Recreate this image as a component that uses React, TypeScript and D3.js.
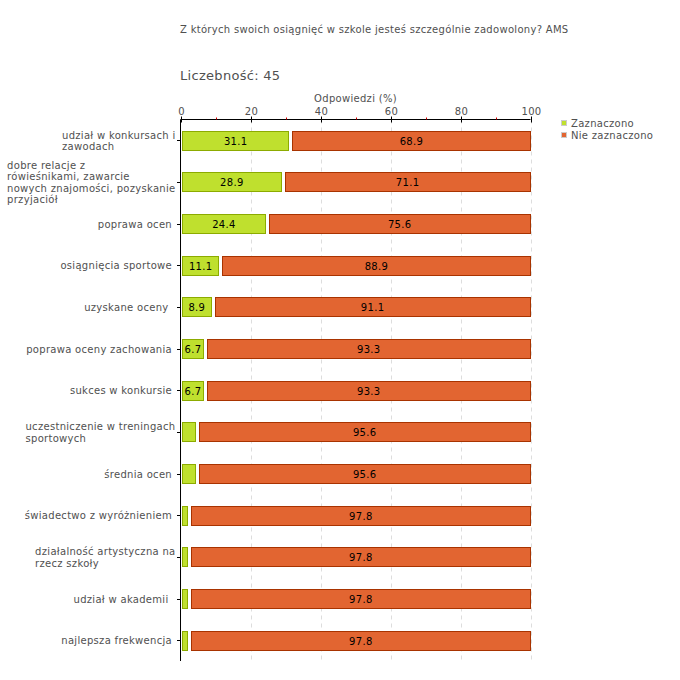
import React, { useEffect, useRef } from "react";
import * as d3 from "d3";

const title = "Z których swoich osiągnięć w szkole jesteś szczególnie zadowolony? AMS";
const countLabel = "Liczebność: 45";
const axisTitle = "Odpowiedzi (%)";
const categories = [
  "udział w konkursach i\nzawodach",
  "dobre relacje z\nrówieśnikami, zawarcie\nnowych znajomości, pozyskanie\nprzyjaciół",
  "poprawa ocen",
  "osiągnięcia sportowe",
  "uzyskane oceny ",
  "poprawa oceny zachowania",
  "sukces w konkursie",
  "uczestniczenie w treningach\nsportowych",
  "średnia ocen",
  "świadectwo z wyróżnieniem",
  "działalność artystyczna na\nrzecz szkoły",
  "udział w akademii ",
  "najlepsza frekwencja",
];
const zaznaczono = [31.1, 28.9, 24.4, 11.1, 8.9, 6.7, 6.7, 4.4, 4.4, 2.2, 2.2, 2.2, 2.2];
const nieZaznaczono = [68.9, 71.1, 75.6, 88.9, 91.1, 93.3, 93.3, 95.6, 95.6, 97.8, 97.8, 97.8, 97.8];
const seriesNames = ["Zaznaczono", "Nie zaznaczono"];
const majorTicks = [0, 20, 40, 60, 80, 100];
const minorTicks = [10, 30, 50, 70, 90];

const FONT = "DejaVu Sans, Verdana, sans-serif";
const LS = "0.3px";
const TXT = "#505050";
const GREEN = "#bfe02e";
const GREEN_S = "#8cab00";
const ORANGE = "#e26531";
const ORANGE_S = "#a83300";

export default function App() {
  const ref = useRef<SVGSVGElement>(null);
  useEffect(() => {
    const svg = d3.select(ref.current);
    svg.selectAll("*").remove();
    const x = d3.scaleLinear().domain([0, 100]).range([180.5, 530.5]);
    const y = d3.scaleBand<number>().domain(d3.range(categories.length)).range([119.5, 661]).paddingInner(0.54).paddingOuter(0.27);
    const top = 119.5;
    const bottom = 661;
    const txt = (sel: any, size = 10, fill = TXT) =>
      sel.attr("font-size", size).attr("fill", fill).attr("font-family", FONT).attr("letter-spacing", LS).style("white-space", "pre");

    txt(svg.append("text").attr("x", 180).attr("y", 33)).text(title);
    txt(svg.append("text").attr("x", 180).attr("y", 80), 13).text(countLabel);
    txt(svg.append("text").attr("x", x(50)).attr("y", 102).attr("text-anchor", "middle")).text(axisTitle);

    // grid
    majorTicks.slice(1).forEach((t) => {
      svg.append("line").attr("x1", Math.round(x(t)) + 0.5).attr("x2", Math.round(x(t)) + 0.5).attr("y1", top).attr("y2", bottom)
        .attr("stroke", "#ddd").attr("stroke-dasharray", "4,4");
    });
    // top axis
    svg.append("line").attr("x1", x(0)).attr("x2", x(100)).attr("y1", top).attr("y2", top).attr("stroke", "#000");
    majorTicks.forEach((t) => {
      const xx = Math.round(x(t)) + 0.5;
      svg.append("line").attr("x1", xx).attr("x2", xx).attr("y1", top - 3).attr("y2", top + 3).attr("stroke", "#000");
      txt(svg.append("text").attr("x", xx).attr("y", 115).attr("text-anchor", "middle")).text(String(t));
    });
    minorTicks.forEach((t) => {
      const xx = Math.round(x(t)) + 0.5;
      svg.append("line").attr("x1", xx).attr("x2", xx).attr("y1", top - 2).attr("y2", top).attr("stroke", "#e00000");
    });
    // left axis
    svg.append("line").attr("x1", 180.5).attr("x2", 180.5).attr("y1", top).attr("y2", bottom).attr("stroke", "#000");

    categories.forEach((cat, i) => {
      const yy = y(i)!;
      const bh = y.bandwidth();
      const cy = yy + bh / 2;
      svg.append("line").attr("x1", 177).attr("x2", 180).attr("y1", Math.round(cy) + 0.5).attr("y2", Math.round(cy) + 0.5).attr("stroke", "#000");
      // label
      const lines = cat.split("\n");
      const lh = 11.3;
      const g = svg.append("g");
      const texts = lines.map((l, k) =>
        txt(g.append("text").attr("y", cy - ((lines.length - 1) * lh) / 2 + k * lh + 4)).text(l)
      );
      const widths = texts.map((t: any) => (t.node() as SVGTextElement).getComputedTextLength());
      const maxW = Math.max(...widths);
      const right = lines.length > 1 ? 175.5 : 172;
      texts.forEach((t: any) => t.attr("x", right - maxW));

      const v1 = zaznaczono[i];
      const v2 = nieZaznaczono[i];
      const gx0 = x(0) + 1.5;
      const gx1 = x(v1);
      const gl = Math.round(gx0);
      const gr = Math.round(gx1);
      svg.append("rect").attr("x", gl + 0.5).attr("y", Math.round(yy) + 0.5).attr("width", gr - gl - 1).attr("height", Math.round(bh))
        .attr("fill", GREEN).attr("stroke", GREEN_S);
      const ox0 = x(v1) + 3;
      const ox1 = x(v1 + v2);
      const ol = Math.round(ox0);
      const or = Math.round(ox1);
      svg.append("rect").attr("x", ol + 0.5).attr("y", Math.round(yy) + 0.5).attr("width", or - ol - 1).attr("height", Math.round(bh))
        .attr("fill", ORANGE).attr("stroke", ORANGE_S);
      if (v1 >= 5) {
        txt(svg.append("text").attr("x", (gx0 + gx1) / 2).attr("y", cy + 4.5).attr("text-anchor", "middle"), 10, "#000").text(v1.toFixed(1));
      }
      txt(svg.append("text").attr("x", (ox0 + ox1) / 2).attr("y", cy + 4.5).attr("text-anchor", "middle"), 10, "#000").text(v2.toFixed(1));
    });

    // legend
    [GREEN, ORANGE].forEach((c, k) => {
      svg.append("rect").attr("x", 561.5).attr("y", 120.5 + k * 12).attr("width", 5).attr("height", 5).attr("fill", c).attr("stroke", "#ccc").attr("stroke-width", 1);
      txt(svg.append("text").attr("x", 571).attr("y", 127 + k * 12)).text(seriesNames[k]);
    });
  }, []);
  return (
    <svg ref={ref} width={680} height={680} style={{ position: "absolute", left: 0, top: 0, background: "#fff" }} />
  );
}
